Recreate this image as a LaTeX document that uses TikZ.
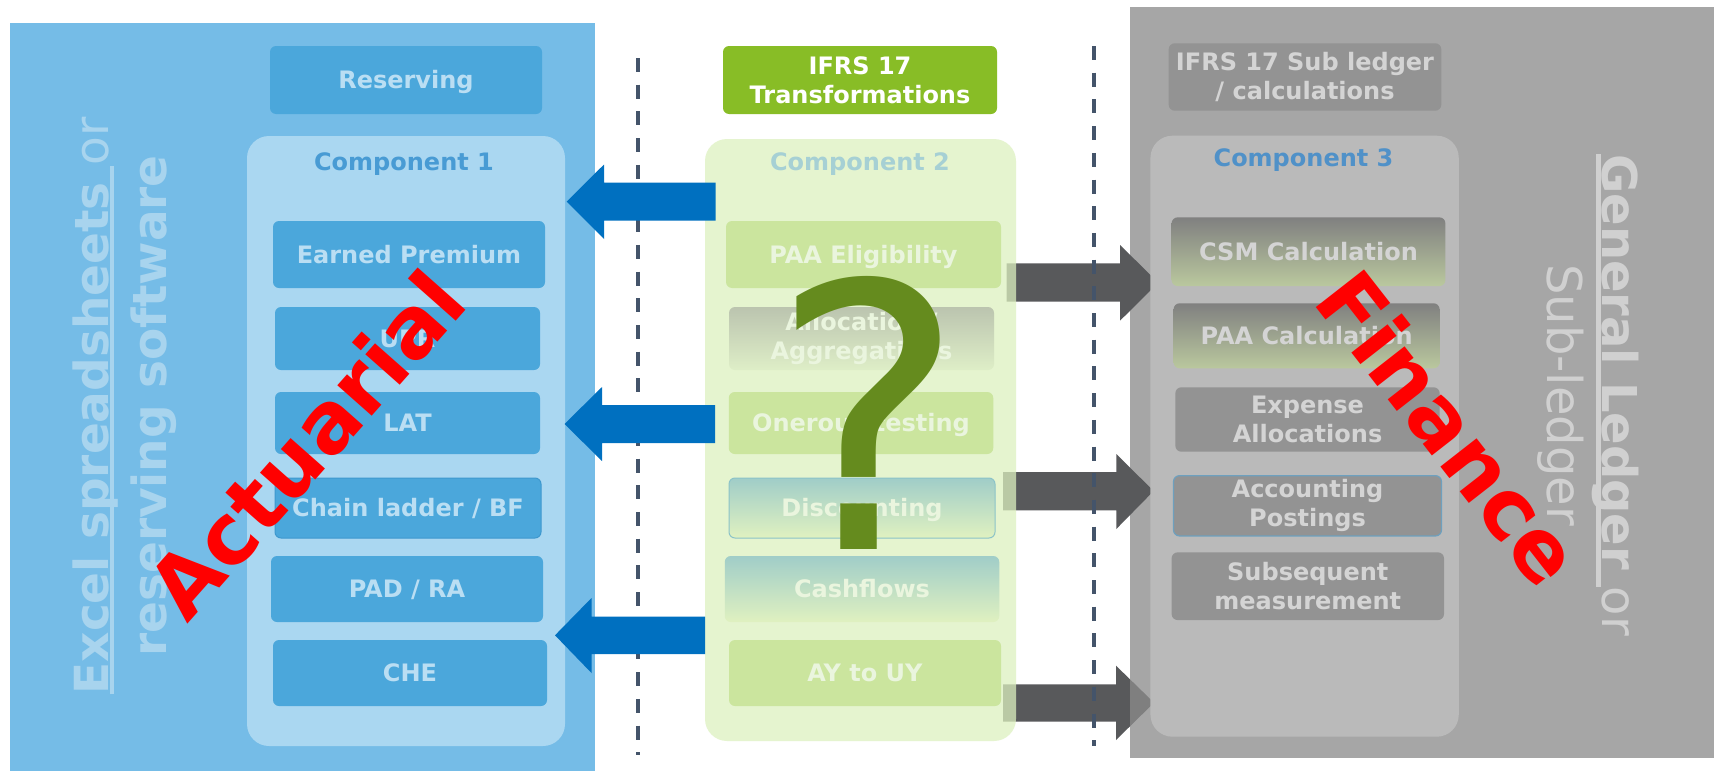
\documentclass[tikz,border=0pt]{standalone}
\usepackage{fontspec}
\setmainfont{DejaVu Sans}
\definecolor{panelblue}{RGB}{117,188,231}
\definecolor{boxblue}{RGB}{75,167,219}
\definecolor{boxblueline}{RGB}{62,152,206}
\definecolor{comp1fill}{RGB}{170,215,241}
\definecolor{c1title}{RGB}{72,155,212}
\definecolor{txtblue}{RGB}{186,222,243}
\definecolor{vtxtblue}{RGB}{168,212,238}
\definecolor{greenhdr}{RGB}{136,189,38}
\definecolor{comp2fill}{RGB}{221,241,191}
\definecolor{c2title}{RGB}{166,208,212}
\definecolor{greenitem}{RGB}{203,229,158}
\definecolor{c2txt}{RGB}{234,245,222}
\definecolor{alloctop}{RGB}{187,196,175}
\definecolor{allocbot}{RGB}{222,238,199}
\definecolor{disctop}{RGB}{160,205,200}
\definecolor{discbot}{RGB}{224,241,192}
\definecolor{discline}{RGB}{140,195,200}
\definecolor{qgreen}{RGB}{101,139,30}
\definecolor{graypanel}{RGB}{139,139,139}
\definecolor{subbox}{RGB}{147,147,147}
\definecolor{comp3fill}{RGB}{186,186,186}
\definecolor{c3title}{RGB}{80,145,200}
\definecolor{c3txt}{RGB}{212,212,212}
\definecolor{csmtop}{RGB}{128,128,128}
\definecolor{csmbot}{RGB}{186,200,158}
\definecolor{postline}{RGB}{110,160,190}
\definecolor{vtxtgray}{RGB}{208,208,208}
\definecolor{darkarrow}{RGB}{88,89,91}
\definecolor{bluearrow}{RGB}{0,112,192}
\definecolor{dashc}{RGB}{68,84,106}
\definecolor{redtxt}{RGB}{255,0,0}
\newsavebox\ulbox
\newcommand{\ulx}[1]{\sbox\ulbox{#1}\rlap{\rule[-6pt]{\wd\ulbox}{4.5pt}}\usebox\ulbox}
\begin{document}
\begin{tikzpicture}[x=1pt,y=-1pt,
  lab/.style={font=\fontsize{24}{29}\selectfont\bfseries, inner sep=0pt, align=center},
  one/.style={text height=17.5pt, text depth=0pt},
  container/.style={rounded corners=22pt, inner sep=0pt},
  bitem/.style={lab, one, rounded corners=6pt, fill=boxblue, text=txtblue},
  gitem/.style={lab, rounded corners=6pt, text=c2txt},
  ritem/.style={lab, rounded corners=6pt, text=c3txt},
  ttl/.style={lab, one},
  dashln/.style={draw=dashc, line width=4pt, dash pattern=on 14pt off 12.7pt},
  vtext/.style={inner sep=0pt, align=center, font=\fontsize{47}{58}\selectfont\bfseries},
  bigred/.style={inner sep=0pt, text=redtxt, font=\fontsize{84}{100}\selectfont\bfseries}
]
\useasboundingbox (0,0) rectangle (1719,771);
\fill[white] (0,0) rectangle (1719,771);

% left panel
\fill[panelblue] (9.5,22.7) rectangle (595,771);

% bottom gray arrow (partly under the gray panel)
\fill[darkarrow] (1003,684.3) -- (1116,684.3) -- (1116,665.7) -- (1154,702.7) -- (1116,740) -- (1116,721.7) -- (1003,721.7) -- cycle;

% gray panel
\fill[graypanel, fill opacity=0.7665] (1129.5,6.7) rectangle (1714,758);

% other gray arrows
\fill[darkarrow] (1006.7,263.3) -- (1120,263.3) -- (1120,245) -- (1158.3,282.7) -- (1120,320.7) -- (1120,301.7) -- (1006.7,301.7) -- cycle;
\fill[darkarrow] (1003,472) -- (1116.3,472) -- (1116.3,454) -- (1153.6,491) -- (1116.3,529) -- (1116.3,510.3) -- (1003,510.3) -- cycle;

% dashed separators
\coordinate (d1a) at (638,58);
\coordinate (d1b) at (638,755);
\coordinate (d2a) at (1093.5,46);
\coordinate (d2b) at (1093.5,746);
\draw[dashln] (d1a) -- (d1b);
\draw[dashln] (d2a) -- (d2b);

% headers
\node[lab, one, rounded corners=6pt, fill=boxblue, text=txtblue, minimum width=272pt, minimum height=68pt] (res) at (406,80) {Reserving};
\node[lab, rounded corners=6pt, fill=greenhdr, text=white, minimum width=274pt, minimum height=68pt] (ifrs) at (860,80) {IFRS 17\\Transformations};
\node[lab, rounded corners=6pt, fill=subbox, text=c3txt, minimum width=272.6pt, minimum height=67.4pt] (subl) at (1305,77) {IFRS 17 Sub ledger\\/ calculations};

% containers
\node[container, fill=comp1fill, minimum width=318pt, minimum height=610pt] (c1) at (406,441) {};
\node[container, fill=comp2fill, fill opacity=0.74, minimum width=311pt, minimum height=602pt] (c2) at (860.5,440) {};
\node[container, fill=comp3fill, minimum width=308.3pt, minimum height=601pt] (c3) at (1304.6,436.2) {};

% titles
\node[ttl, text=c1title] (t1) at (404,162) {Component 1};
\node[ttl, text=c2title] (t2) at (860,162) {Component 2};
\node[ttl, text=c3title] (t3) at (1303.5,158) {Component 3};

% component 1 items
\node[bitem, minimum width=272pt, minimum height=67pt] (ep) at (409,254.5) {Earned Premium};
\node[bitem, minimum width=265pt, minimum height=63pt] (upr) at (407.5,338.5) {UPR};
\node[bitem, minimum width=265pt, minimum height=62pt] (lat) at (407.5,423) {LAT};
\node[bitem, draw=boxblueline, line width=1pt, minimum width=266pt, minimum height=60pt] (cl) at (408,508) {Chain ladder / BF};
\node[bitem, minimum width=272pt, minimum height=66pt] (pad) at (407,589) {PAD / RA};
\node[bitem, minimum width=274pt, minimum height=66pt] (che) at (410,673) {CHE};

% component 2 items
\node[gitem, one, fill=greenitem, minimum width=275pt, minimum height=67pt] (paae) at (863.5,254.5) {PAA Eligibility};
\node[gitem, top color=alloctop, bottom color=allocbot, minimum width=265pt, minimum height=63pt] (alloc) at (861.5,338.5) {Allocation /\\Aggregations};
\node[gitem, one, fill=greenitem, minimum width=264.5pt, minimum height=62pt] (oner) at (861,423) {Onerous testing};
\node[gitem, one, draw=discline, line width=1pt, top color=disctop, bottom color=discbot, minimum width=266pt, minimum height=60pt] (disc) at (862,508) {Discounting};
\node[gitem, one, top color=disctop, bottom color=discbot, minimum width=274.5pt, minimum height=66pt] (cash) at (862,589) {Cashflows};
\node[gitem, one, fill=greenitem, minimum width=272pt, minimum height=66pt] (ay) at (865,673) {AY to UY};

% component 3 items
\node[ritem, one, top color=csmtop, bottom color=csmbot, minimum width=273.8pt, minimum height=68.7pt] (csm) at (1308.5,251.7) {CSM Calculation};
\node[ritem, one, top color=csmtop, bottom color=csmbot, minimum width=266pt, minimum height=65pt] (paac) at (1306.6,335.8) {PAA Calculation};
\node[ritem, fill=subbox, minimum width=264.3pt, minimum height=64.4pt] (exp) at (1307.5,419.5) {Expense\\Allocations};
\node[ritem, fill=subbox, draw=postline, line width=1.2pt, minimum width=268pt, minimum height=60.3pt] (post) at (1307.5,505.8) {Accounting\\Postings};
\node[ritem, fill=subbox, minimum width=272.4pt, minimum height=67.7pt] (subs) at (1307.8,586.2) {Subsequent\\measurement};

% blue arrows
\fill[bluearrow] (715.5,182.7) -- (604,182.7) -- (604,164.5) -- (566.7,201.7) -- (604,239) -- (604,220.7) -- (715.5,220.7) -- cycle;
\fill[bluearrow] (715,405) -- (602,405) -- (602,387) -- (564.5,424) -- (602,461) -- (602,443) -- (715,443) -- cycle;
\fill[bluearrow] (705,616.7) -- (591.5,616.7) -- (591.5,598) -- (555,635.3) -- (591.5,673) -- (591.5,654) -- (705,654) -- cycle;

% vertical side texts
\node[vtext, text=vtxtblue, rotate=90] (vl) at (124.5,406) {\ulx{Excel spreadsheets\ }{\mdseries or}\\reserving software};
\node[vtext, text=vtxtgray, rotate=-90, font=\fontsize{48}{55}\selectfont\bfseries] (vr) at (1588,395) {\ulx{General Ledger\ }{\mdseries or}\\{\mdseries Sub-ledger}};

% question mark
\node[inner sep=0pt, anchor=base, text=qgreen, font=\fontsize{368}{368}\selectfont] (q) at (868,549) {?};

% red overlay words
\node[bigred, rotate=48.5] (act) at (306,444) {Actuarial};
\node[bigred, rotate=-52] (fin) at (1450,428) {Finance};
\end{tikzpicture}
\end{document}
